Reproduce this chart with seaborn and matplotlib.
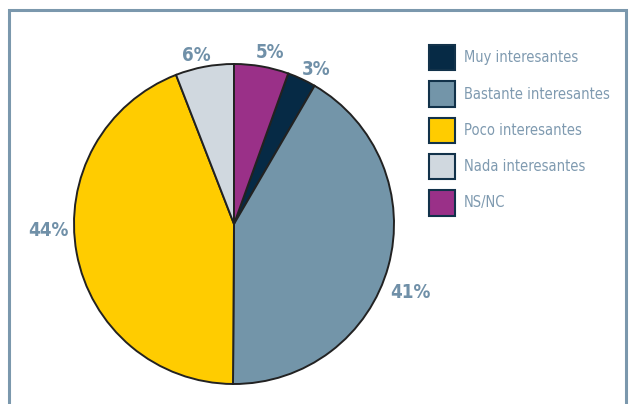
import matplotlib
matplotlib.use("Agg")
import matplotlib.pyplot as plt
import seaborn as sns
from matplotlib.patches import Rectangle
import numpy as np

# Data (shares; printed labels are rounded)
categories = ["Muy interesantes", "Bastante interesantes", "Poco interesantes",
              "Nada interesantes", "NS/NC"]
values = [2.9, 41.7, 44.0, 5.9, 5.5]
pct_labels = ["3%", "41%", "44%", "6%", "5%"]

colors = ["#062a45", "#7395a9", "#ffcc00", "#d0d8df", "#9a3088"]
text_col = "#7f9ab0"
frame_col = "#7b98ad"

sns.set_theme(style="white")
plt.rcParams["font.family"] = ["DejaVu Sans"]
plt.rcParams["font.stretch"] = "condensed"

fig = plt.figure(figsize=(6.30, 4.04), dpi=100)
ax = fig.add_axes([74 / 630, 20 / 404, 320 / 630, 320 / 404])

# start so that the last wedge (NS/NC) ends at 12 o'clock
start = 90 - values[-1] / sum(values) * 360
wedges, _ = ax.pie(values, colors=colors, startangle=start, counterclock=False,
                   wedgeprops=dict(edgecolor="#222222", linewidth=1.4))
ax.set_xlim(-1, 1)
ax.set_ylim(-1, 1)
ax.set_aspect("equal")

# label placement: angle offset (deg) from wedge middle, distance in radii
label_adjust = {"3%": (-3, 1.095), "41%": (-6, 1.18), "44%": (-8.5, 1.16),
                "6%": (2, 1.08), "5%": (-2, 1.095)}
for w, lab in zip(wedges, pct_labels):
    mid = (w.theta1 + w.theta2) / 2
    da, dist = label_adjust[lab]
    a = np.deg2rad(mid + da)
    ax.text(dist * np.cos(a), dist * np.sin(a), lab, ha="center", va="center",
            fontsize=13.5, fontweight="bold", color="#7090a8")

handles = [plt.Rectangle((0, 0), 1, 1, facecolor=c, edgecolor="#12324a", linewidth=1.5)
           for c in colors]
leg = fig.legend(handles, categories, loc="upper left",
                 bbox_to_anchor=(429 / 630, 1 - 45 / 404), frameon=False,
                 fontsize=10.5, handlelength=1.8, handleheight=2.3,
                 labelspacing=0.75, handletextpad=0.6, borderpad=0, borderaxespad=0)
for t in leg.get_texts():
    t.set_color(text_col)

# outer frame (open at the bottom)
fig.patches.append(Rectangle((9 / 630, -0.05), 617 / 630, 1.05 - 10 / 404,
                             transform=fig.transFigure, fill=False,
                             edgecolor=frame_col, linewidth=2.2))

fig.savefig("out.png", dpi=100)
